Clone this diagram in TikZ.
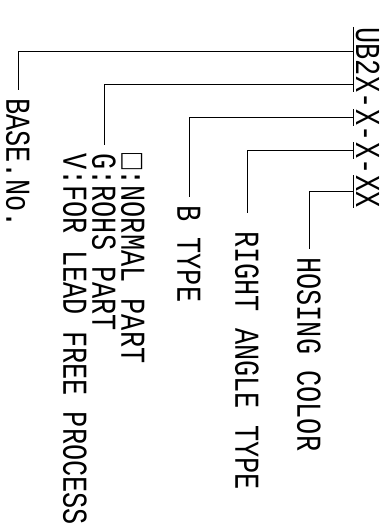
\documentclass[tikz,border=0pt]{standalone}
\usepackage{fontspec}
\newfontfamily\cadfont[FakeStretch=0.77]{Liberation Mono}
\usetikzlibrary{positioning}
\tikzset{
  lbl/.style={rotate=-90, anchor=west, inner xsep=8pt, inner ysep=0pt,
    align=left, font=\cadfont\fontsize{35}{29}\selectfont},
  fld/.style={rotate=-90, anchor=base west, inner xsep=0pt, inner ysep=2pt,
    font=\cadfont\fontsize{35}{29}\selectfont},
  lead/.style={line width=0.8pt},
}

\begin{document}
\begin{tikzpicture}[x=1pt, y=-1pt]
\useasboundingbox (0,0) rectangle (390,529);

% part number, one node per field
\node[fld] at (356,27) (fBase) {UB2};
\node[fld] at (fBase.base east) (fPart) {X};
\node[fld] at (fPart.base east) (d1) {-};
\node[fld] at (d1.base east) (fType) {X};
\node[fld] at (fType.base east) (d2) {-};
\node[fld] at (d2.base east) (fAngle) {X};
\node[fld] at (fAngle.base east) (d3) {-};
\node[fld] at (d3.base east) (fColor) {XX};

\foreach \f in {fBase,fPart,fType,fAngle,fColor}
  \draw[lead] (\f.south west) -- (\f.south east);

% field descriptions
\node[lbl] at (18,90) (base) {BASE.No.};
\node[lbl] at (104,145) (part) {□:NORMAL PART\\G:ROHS PART\\V:FOR LEAD FREE PROCESS};
\node[lbl] at (189,197) (type) {B TYPE};
\node[lbl] at (247,223) (angle) {RIGHT ANGLE TYPE};
\node[lbl] at (309,249) (color) {HOSING COLOR};

% leaders
\draw[lead] (fBase.south) -| (base.west);
\draw[lead] (fPart.south) -| (part.west);
\draw[lead] (fType.south) -| (type.west);
\draw[lead, shorten >=10pt] (fAngle.south) -| (angle.west);
\draw[lead] (fColor.south) -| (color.west);

\end{tikzpicture}
\end{document}
